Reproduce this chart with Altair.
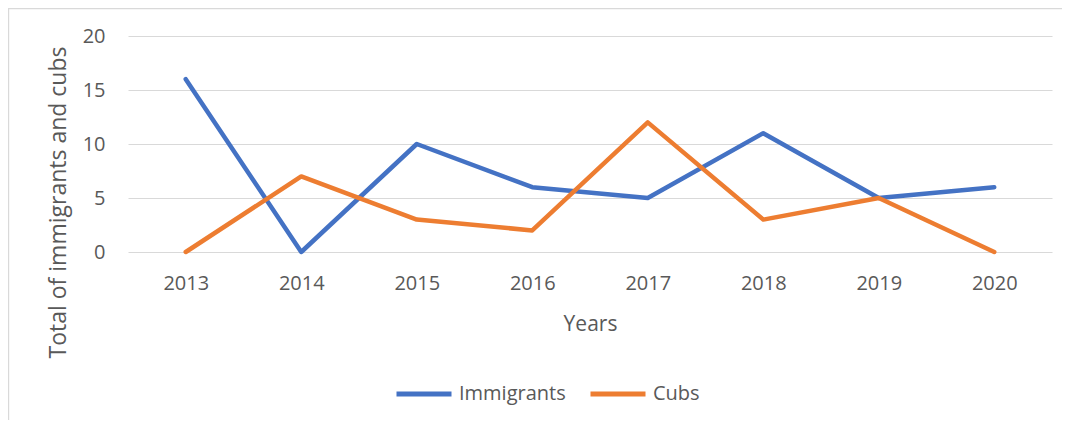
import altair as alt
import pandas as pd

years = ["2013", "2014", "2015", "2016", "2017", "2018", "2019", "2020"]
immigrants = [16, 0, 10, 6, 5, 11, 5, 6]
cubs = [0, 7, 3, 2, 12, 3, 5, 0]
series = ["Immigrants", "Cubs"]
colors = ["#4472C4", "#ED7D31"]

rows = []
for y, v in zip(years, immigrants):
    rows.append({"Year": y, "Series": "Immigrants", "Value": v})
for y, v in zip(years, cubs):
    rows.append({"Year": y, "Series": "Cubs", "Value": v})
df = pd.DataFrame(rows)

W, H = 924, 216
FONT = "Open Sans"
TXT = "#595959"

lines = alt.Chart(df).mark_line(strokeWidth=4.5, strokeCap="round", strokeJoin="round").encode(
    x=alt.X("Year:N", sort=years, scale=alt.Scale(type="point", padding=0.5),
            axis=alt.Axis(title="Years", labelAngle=0, domain=False, ticks=False,
                          labelPadding=21, labelFontSize=20, labelColor=TXT, labelFont=FONT,
                          titleFontSize=21, titleColor=TXT, titleFont=FONT, titleFontWeight="normal",
                          titleY=78, titleBaseline="alphabetic")),
    y=alt.Y("Value:Q", scale=alt.Scale(domain=[0, 20], nice=False),
            axis=alt.Axis(title="Total of immigrants and cubs", values=[0, 5, 10, 15, 20],
                          domain=False, ticks=False, labelPadding=23, labelFontSize=20,
                          labelColor=TXT, labelFont=FONT, gridColor="#d9d9d9", gridWidth=1.2,
                          titleFontSize=23, titleColor=TXT, titleFont=FONT, titleFontWeight="normal",
                          titleAngle=-90, titleX=-63, titleY=166, titleAlign="center",
                          titleBaseline="alphabetic")),
    color=alt.Color("Series:N", sort=series, scale=alt.Scale(domain=series, range=colors),
                    legend=alt.Legend(title=None, orient="none", legendX=266, legendY=328,
                                      direction="horizontal", symbolType="stroke",
                                      symbolSize=3025, symbolStrokeWidth=5, labelOffset=5,
                                      columnPadding=14, labelFontSize=20, labelColor=TXT,
                                      labelFont=FONT, padding=0)),
)

border = alt.Chart(pd.DataFrame({"b": [0]})).mark_rect(
    fillOpacity=0, fill="#ffffff", stroke="#d9d9d9", strokeWidth=1.2
).encode(
    x=alt.value(-119.4), x2=alt.value(W + 40),
    y=alt.value(-27.4), y2=alt.value(H + 250),
)

chart = alt.layer(border, lines).properties(
    width=W, height=H,
    autosize=alt.AutoSizeParams(type="none"),
    padding={"left": 120, "top": 28, "right": 10, "bottom": 168},
).configure_view(stroke=None)

chart.save("out.html", embed_options={"renderer": "svg", "actions": False})
